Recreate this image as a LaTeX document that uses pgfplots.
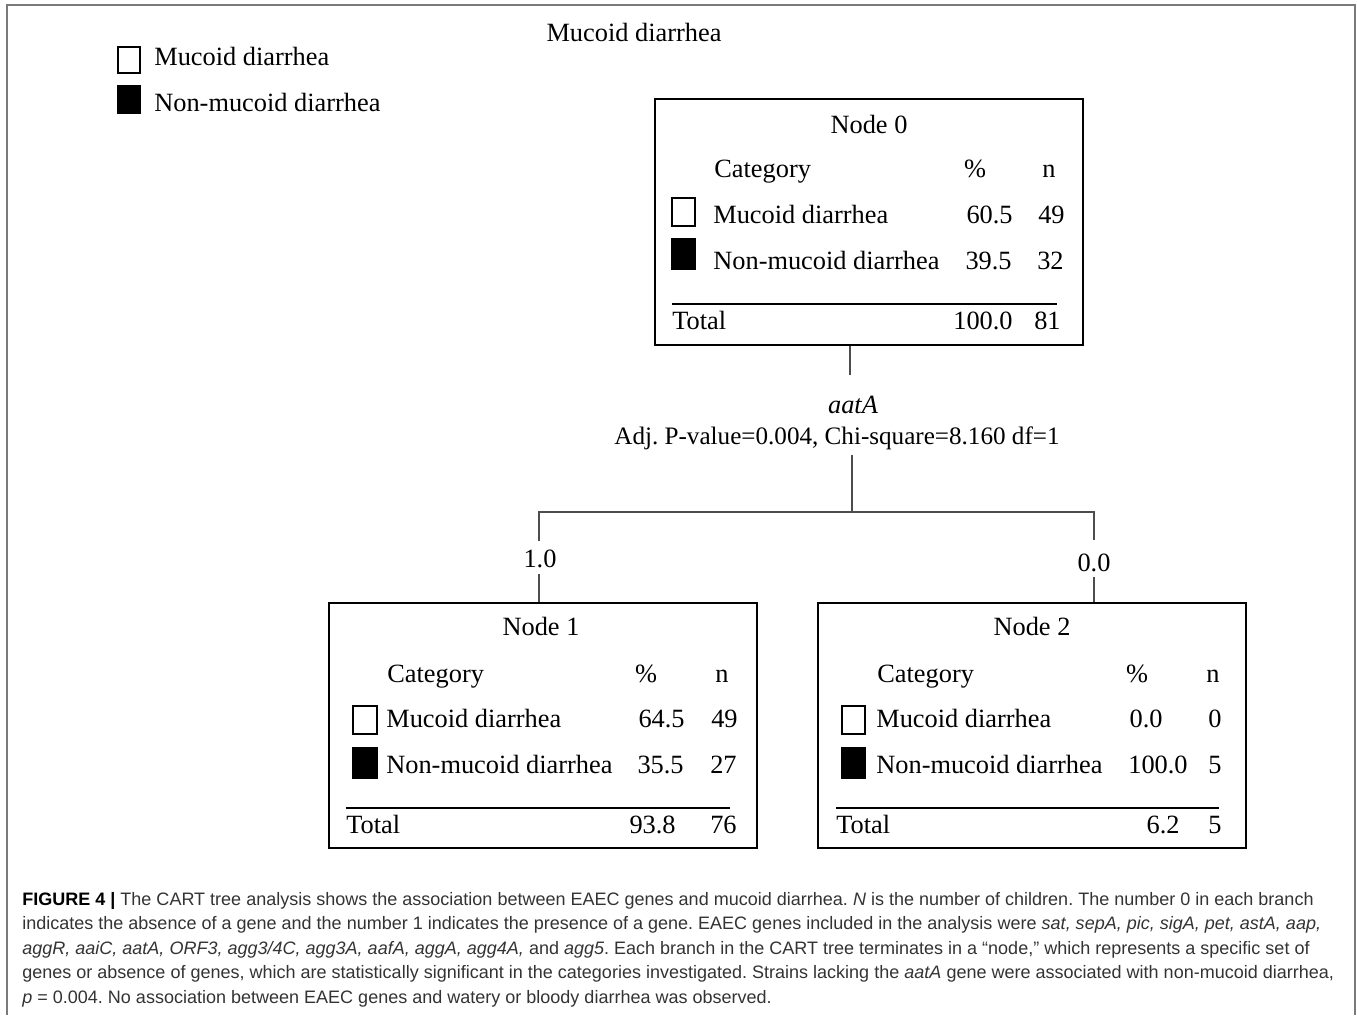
\documentclass[border=0pt]{standalone}
\usepackage{pgfplots}
\pgfplotsset{compat=1.18}
\usepackage{fontspec}
\setmainfont{Liberation Serif}
\newfontfamily\capfont{Liberation Sans}
\definecolor{framegray}{HTML}{7A7A7A}
\definecolor{linkgray}{HTML}{4D4D4D}
\definecolor{captext}{HTML}{333333}
\newcommand\tf{\fontsize{15pt}{18pt}\selectfont}
\newcommand\cf{\capfont\fontsize{10.25pt}{14pt}\selectfont}
\frenchspacing

\begin{document}
\begin{tikzpicture}[every node/.style={font=\tf, inner sep=0pt}]
\begin{axis}[
    scale only axis,
    width=27.14cm, height=20.3cm,
    xmin=0, xmax=1357, ymin=0, ymax=1015,
    y dir=reverse,
    hide axis,
    clip=false,
    box/.style={black, line width=1.2pt, line cap=rect, mark=none},
    link/.style={linkgray, line width=0.8pt, mark=none},
    wsq/.style={draw=black, fill=white, line width=1pt, line cap=rect, mark=none},
    bsq/.style={draw=black, fill=black, line width=1pt, line cap=rect, mark=none},
]
% full canvas, so that the picture keeps the reference's size
\addplot[draw=none, mark=none] coordinates {(0,0) (1357,0) (1357,1015) (0,1015) (0,0)};
% outer frame
\addplot[framegray, line width=1.2pt, mark=none] coordinates {(7,1015) (7,5) (1355,5) (1355,1015)};

% legend and title
\addplot[wsq] coordinates {(118,47) (140,47) (140,73) (118,73) (118,47)};
\addplot[bsq] coordinates {(118,86) (140,86) (140,113) (118,113) (118,86)};
\node[font=\tf, anchor=base west] at (axis cs:154,65) {Mucoid diarrhea};
\node[font=\tf, anchor=base west] at (axis cs:154,111) {Non-mucoid diarrhea};
\node[font=\tf, anchor=base] at (axis cs:634,41) {Mucoid diarrhea};

% Node 0
\addplot[box] coordinates {(655,99) (1083,99) (1083,345) (655,345) (655,99)};
\node[font=\tf, anchor=base] at (axis cs:869,133) {Node 0};
\node[font=\tf, anchor=base west] at (axis cs:714,177) {Category};
\node[font=\tf, anchor=base] at (axis cs:975,177) {\%};
\node[font=\tf, anchor=base] at (axis cs:1049,177) {n};
\addplot[wsq] coordinates {(672,198) (695,198) (695,226) (672,226) (672,198)};
\node[font=\tf, anchor=base west] at (axis cs:713,223) {Mucoid diarrhea};
\node[font=\tf, anchor=base east] at (axis cs:1013,223) {60.5};
\node[font=\tf, anchor=base east] at (axis cs:1065,223) {49};
\addplot[bsq] coordinates {(672,239) (695,239) (695,269) (672,269) (672,239)};
\node[font=\tf, anchor=base west] at (axis cs:713,269) {Non-mucoid diarrhea};
\node[font=\tf, anchor=base east] at (axis cs:1012,269) {39.5};
\node[font=\tf, anchor=base east] at (axis cs:1064,269) {32};
\addplot[black, line width=0.7pt, mark=none] coordinates {(672,304) (1057,304)};
\node[font=\tf, anchor=base west] at (axis cs:672,329) {Total};
\node[font=\tf, anchor=base east] at (axis cs:1013,329) {100.0};
\node[font=\tf, anchor=base east] at (axis cs:1061,329) {81};

% split on aatA
\addplot[link] coordinates {(850,346) (850,375)};
\node[font=\tf, anchor=base] at (axis cs:853,413) {\textit{aatA}};
\node[font=\fontsize{14.3pt}{17pt}\selectfont, anchor=base] at (axis cs:837,444) {Adj. P-value=0.004, Chi-square=8.160 df=1};
\addplot[link] coordinates {(852,455) (852,512)};
\addplot[link] coordinates {(539,541) (539,512) (1094,512) (1094,540)};
\node[font=\tf, anchor=base] at (axis cs:540,567) {1.0};
\node[font=\tf, anchor=base] at (axis cs:1094,571) {0.0};
\addplot[link] coordinates {(539,574) (539,603)};
\addplot[link] coordinates {(1094,577) (1094,603)};

% Node 1
\addplot[box] coordinates {(329,603) (757,603) (757,848) (329,848) (329,603)};
\node[font=\tf, anchor=base] at (axis cs:541,635) {Node 1};
\node[font=\tf, anchor=base west] at (axis cs:387,682) {Category};
\node[font=\tf, anchor=base] at (axis cs:646,682) {\%};
\node[font=\tf, anchor=base] at (axis cs:722,682) {n};
\addplot[wsq] coordinates {(353,706) (377,706) (377,734) (353,734) (353,706)};
\node[font=\tf, anchor=base west] at (axis cs:386,727) {Mucoid diarrhea};
\node[font=\tf, anchor=base east] at (axis cs:685,727) {64.5};
\node[font=\tf, anchor=base east] at (axis cs:738,727) {49};
\addplot[bsq] coordinates {(353,748) (377,748) (377,778) (353,778) (353,748)};
\node[font=\tf, anchor=base west] at (axis cs:386,773) {Non-mucoid diarrhea};
\node[font=\tf, anchor=base east] at (axis cs:684,773) {35.5};
\node[font=\tf, anchor=base east] at (axis cs:737,773) {27};
\addplot[black, line width=0.7pt, mark=none] coordinates {(346,808) (730,808)};
\node[font=\tf, anchor=base west] at (axis cs:346,833) {Total};
\node[font=\tf, anchor=base east] at (axis cs:676,833) {93.8};
\node[font=\tf, anchor=base east] at (axis cs:737,833) {76};

% Node 2
\addplot[box] coordinates {(818,603) (1246,603) (1246,848) (818,848) (818,603)};
\node[font=\tf, anchor=base] at (axis cs:1032,635) {Node 2};
\node[font=\tf, anchor=base west] at (axis cs:877,682) {Category};
\node[font=\tf, anchor=base] at (axis cs:1137,682) {\%};
\node[font=\tf, anchor=base] at (axis cs:1213,682) {n};
\addplot[wsq] coordinates {(842,706) (865,706) (865,734) (842,734) (842,706)};
\node[font=\tf, anchor=base west] at (axis cs:876,727) {Mucoid diarrhea};
\node[font=\tf, anchor=base east] at (axis cs:1163,727) {0.0};
\node[font=\tf, anchor=base east] at (axis cs:1222,727) {0};
\addplot[bsq] coordinates {(842,748) (865,748) (865,778) (842,778) (842,748)};
\node[font=\tf, anchor=base west] at (axis cs:876,773) {Non-mucoid diarrhea};
\node[font=\tf, anchor=base east] at (axis cs:1188,773) {100.0};
\node[font=\tf, anchor=base east] at (axis cs:1222,773) {5};
\addplot[black, line width=0.7pt, mark=none] coordinates {(836,808) (1219,808)};
\node[font=\tf, anchor=base west] at (axis cs:836,833) {Total};
\node[font=\tf, anchor=base east] at (axis cs:1180,833) {6.2};
\node[font=\tf, anchor=base east] at (axis cs:1222,833) {5};

% caption
\node[font=\cf, text=captext, anchor=base west] at (axis cs:22,905) {\textbf{\color{black}FIGURE 4 |} The CART tree analysis shows the association between EAEC genes and mucoid diarrhea. \textit{N} is the number of children. The number 0 in each branch};
\node[font=\cf, text=captext, anchor=base west] at (axis cs:22,929.5) {indicates the absence of a gene and the number 1 indicates the presence of a gene. EAEC genes included in the analysis were \textit{sat, sepA, pic, sigA, pet, astA, aap,}};
\node[font=\cf, text=captext, anchor=base west] at (axis cs:22,954) {\textit{aggR, aaiC, aatA, ORF3, agg3/4C, agg3A, aafA, aggA, agg4A,} and \textit{agg5}. Each branch in the CART tree terminates in a “node,” which represents a specific set of};
\node[font=\cf, text=captext, anchor=base west] at (axis cs:22,978.5) {genes or absence of genes, which are statistically significant in the categories investigated. Strains lacking the \textit{aatA} gene were associated with non-mucoid diarrhea,};
\node[font=\cf, text=captext, anchor=base west] at (axis cs:22,1003) {\textit{p} = 0.004. No association between EAEC genes and watery or bloody diarrhea was observed.};
\end{axis}
\end{tikzpicture}
\end{document}
